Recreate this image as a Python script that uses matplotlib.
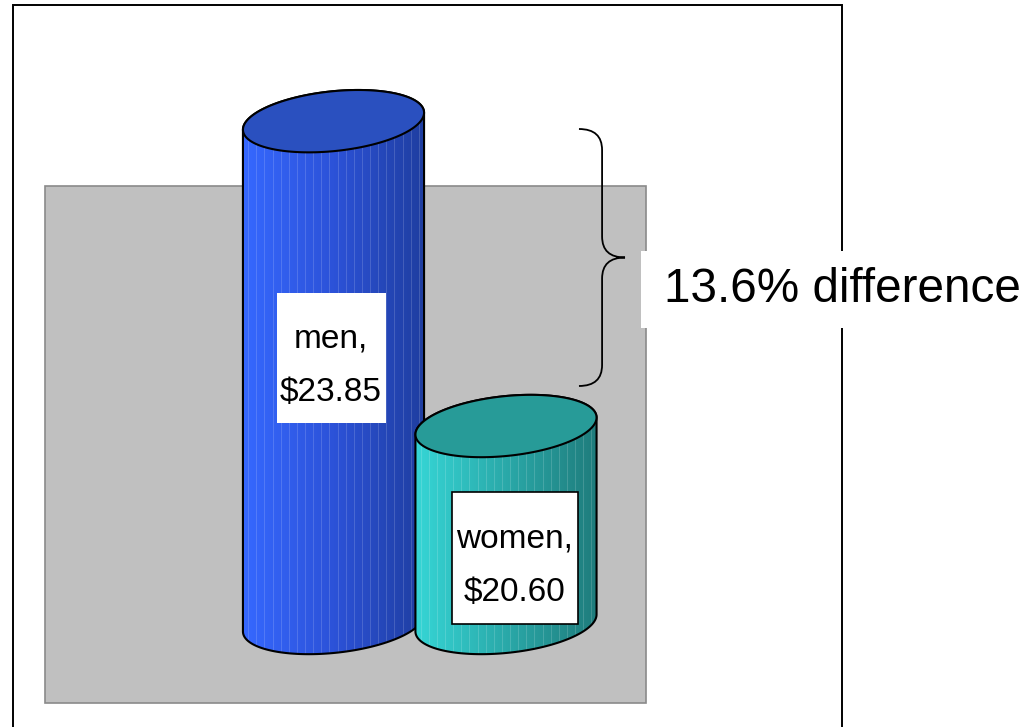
import numpy as np
import matplotlib
matplotlib.use("Agg")
import matplotlib.pyplot as plt
from matplotlib.patches import Rectangle, Polygon, PathPatch
from matplotlib.path import Path
from matplotlib.colors import LinearSegmentedColormap

# data
groups = ["men", "women"]
wages = [23.85, 20.60]
body_colors = [["#3668ff", "#2c52d8", "#1f3ea0"], ["#36d6d6", "#2aa9a9", "#1f7c7c"]]
top_colors = ["#2a50bf", "#279b98"]

base = 18.5          # value at the cylinder floor
W, H = 1027, 727
px_x = 172.5         # pixels per category step
px_y = 93.8          # pixels per dollar

fig = plt.figure(figsize=(W / 100, H / 100), dpi=100)
ax = fig.add_axes([0, 0, 1, 1])
ax.set_xlim(-333.5 / px_x, 1 + (W - 506) / px_x)
ax.set_ylim(base - (H - 623) / px_y, base + 623 / px_y)
ax.axis("off")

# outer frame and gray back wall (axes fills the figure, so axes fraction = figure fraction)
ax.add_patch(Rectangle((13 / W, -0.02), (842 - 13) / W, 1.02 - 5 / H, transform=ax.transAxes,
                       fill=False, ec="black", lw=1.4, zorder=0.5, clip_on=False))
ax.add_patch(Rectangle((45 / W, 1 - 703 / H), 601 / W, (703 - 186) / H, transform=ax.transAxes,
                       fc="#c0c0c0", ec="#8a8a8a", lw=1.2, zorder=0.2, clip_on=False))

bw = 1.05            # cylinder width in category units
eh = 30 / px_y       # half-height of end ellipse
tilt = 8.5 / px_y    # right side sits higher than the left
t = np.linspace(0, 2 * np.pi, 200)


def ellipse_pts(cx, cy, tt):
    return np.column_stack([cx + bw / 2 * np.cos(tt), cy + eh * np.sin(tt) + tilt * np.cos(tt)])


for i, (g, v) in enumerate(zip(groups, wages)):
    z = 2 + i * 2
    # body outline: bottom front half ellipse, then back half of the top
    bottom = ellipse_pts(i, base, np.linspace(np.pi, 2 * np.pi, 100))
    top_back = ellipse_pts(i, v, np.linspace(0, np.pi, 100))
    body = np.vstack([bottom, top_back])
    poly = Polygon(body, closed=True, fc="none", ec="black", lw=1.5, zorder=z + 0.5)
    ax.add_patch(poly)
    cmap = LinearSegmentedColormap.from_list("c%d" % i, body_colors[i])
    grad = np.linspace(0, 1, 256).reshape(1, -1)
    im = ax.imshow(grad, cmap=cmap, aspect="auto", zorder=z,
                   extent=[i - bw / 2, i + bw / 2, base - eh - tilt, v + eh + tilt])
    im.set_clip_path(poly)
    # thin light stripes on the side
    for sx in np.linspace(i - bw / 2 + 0.03, i + bw / 2 - 0.03, 22):
        ln, = ax.plot([sx, sx], [base - 1, v + 1], color="white", lw=0.6, alpha=0.18, zorder=z + 0.1)
        ln.set_clip_path(poly)
    ax.add_patch(Polygon(ellipse_pts(i, v, t), closed=True, fc=top_colors[i], ec="black",
                         lw=1.5, zorder=z + 0.6))

# value label boxes: (x offset left, x offset right, y bottom, y top) relative to each bar
label_box = [(-0.3275, 0.304, 20.632, 22.018), (-0.313, 0.417, 18.489, 19.897)]
label_ec = ["none", "black"]
label_x = [-0.015, 0.052]
label_base = [(21.442, 20.867), (19.310, 18.735)]
for i, (g, v) in enumerate(zip(groups, wages)):
    x0, x1, y0, y1 = label_box[i]
    ax.add_patch(Rectangle((i + x0, y0), x1 - x0, y1 - y0, fc="white", ec=label_ec[i], lw=1.2, zorder=9))
    ax.text(i + label_x[i], label_base[i][0], "%s," % g, ha="center", va="baseline",
            fontsize=24, family="Liberation Sans", zorder=10)
    ax.text(i + label_x[i], label_base[i][1], "$%.2f" % v, ha="center", va="baseline",
            fontsize=24, family="Liberation Sans", zorder=10)

# brace showing the gap
y_top = base + (623 - 129) / px_y
y_bot = base + (623 - 386) / px_y
y_mid = (y_top + y_bot) / 2
xa, xb, xc = 1.423, 1.557, 1.690
r = 21 / px_y
verts = [(xa, y_top), (xb, y_top), (xb, y_top - r),
         (xb, y_mid + r), (xb, y_mid), (xc, y_mid),
         (xb, y_mid), (xb, y_mid - r),
         (xb, y_bot + r), (xb, y_bot), (xa, y_bot)]
codes = [Path.MOVETO, Path.CURVE3, Path.CURVE3,
         Path.LINETO, Path.CURVE3, Path.CURVE3,
         Path.CURVE3, Path.CURVE3,
         Path.LINETO, Path.CURVE3, Path.CURVE3]
ax.add_patch(PathPatch(Path(verts, codes), fc="none", ec="black", lw=1.3, zorder=6))

diff = (wages[0] - wages[1]) / wages[0] * 100
ax.add_patch(Rectangle((641 / W, 1 - 328 / H), (W - 641) / W, 77 / H, transform=ax.transAxes,
                       fc="white", ec="none", zorder=9, clip_on=False))
ax.text((664 - 333.5) / px_x, y_mid - 32 / px_y, "%.1f%% difference" % diff, ha="left", va="center",
        fontsize=34.3, family="Liberation Sans", zorder=10)

fig.savefig("out.png", dpi=100)
